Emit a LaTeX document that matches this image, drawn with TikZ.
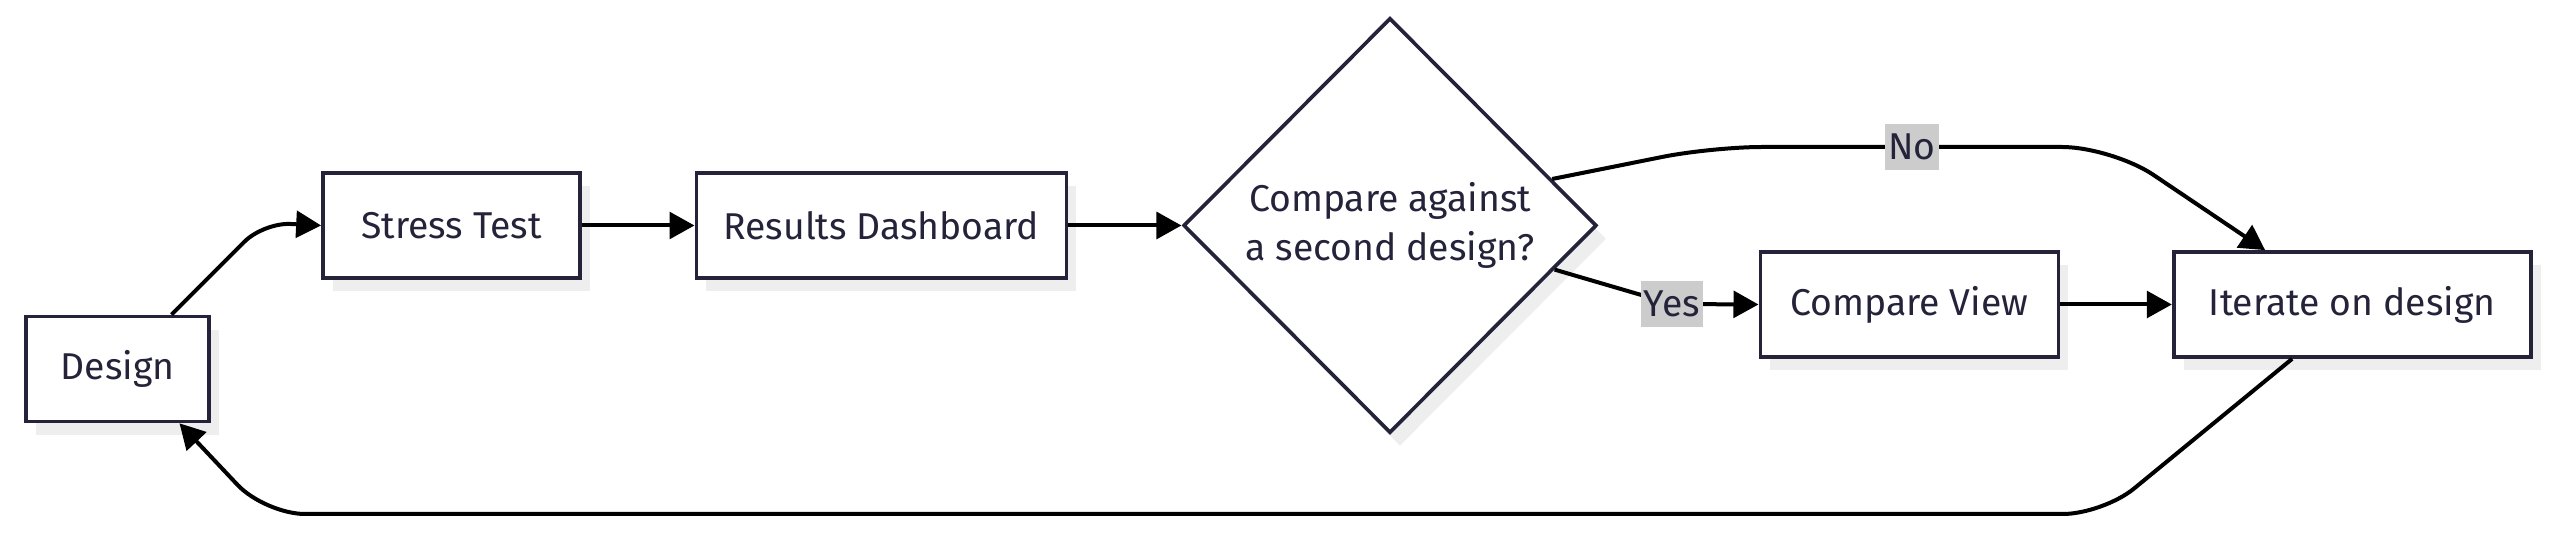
\documentclass[tikz,border=0pt]{standalone}
\usepackage{fontspec}
\setmainfont{Fira Sans}
\usepackage{tikz}
\usetikzlibrary{arrows.meta,positioning,calc,shapes.geometric,shadows}
\definecolor{ink}{HTML}{25233A}
\definecolor{shade}{HTML}{EEEEEE}
\definecolor{tagbg}{HTML}{CCCCCC}

\begin{document}
\begin{tikzpicture}[x=0.3pt,y=-0.3pt,>={Triangle[length=7.5pt,width=8pt]},
  box/.style={draw=ink,line width=1.1pt,fill=white,text=ink,minimum height=31.5pt,
    font=\fontsize{11.2}{14.7}\selectfont,
    drop shadow={shadow xshift=3pt,shadow yshift=-4pt,fill=shade,opacity=1}},
  ask/.style={box,shape=diamond,inner sep=0pt,align=center,minimum width=124pt,minimum height=124.5pt},
  tag/.style={sharp corners,fill=tagbg,text=ink,inner sep=1pt,minimum height=13.8pt,font=\fontsize{11.2}{14}\selectfont},
  flow/.style={->,line width=1.2pt,black}]
  \useasboundingbox (0,0) rectangle (2560,534);
  \node[box,minimum width=54.9pt] (dsg) at (117.5,369) {Design};
  \node[box,minimum width=77.1pt] (st) at (451.5,225.5) {Stress Test};
  \node[box,minimum width=111pt,right=33.8pt of st] (rd) {Results Dashboard};
  \node[ask,right=34pt of rd] (cmp) {Compare against\\a second design?};
  \node[box,minimum width=89.4pt,right=48pt of cmp,yshift=-23.7pt] (cv) {Compare View};
  \node[box,minimum width=107.1pt,right=33.5pt of cv] (it) {Iterate on design};
  \draw[flow,rounded corners=8pt] ($(dsg.north)+(54,0)$) -- ++(92,-92) -- (st.west);
  \draw[flow] (st) -- (rd);
  \draw[flow] (rd) -- (cmp);
  \draw[flow,rounded corners=15pt] (cmp.16) -- (1712,147) -- node[tag]{No} (2112,147) -- ($(it.north)+(-87,0)$);
  \draw[flow,rounded corners=4pt] (cmp.-15) -- (1672,304) node[tag]{Yes} -- (cv.west);
  \draw[flow] (cv) -- (it);
  \draw[flow,rounded corners=12pt] ($(it.south)+(-60,0)$) -- (2103,514) -- (265,514) -- ($(dsg.south)+(62,0)$);
\end{tikzpicture}
\end{document}
